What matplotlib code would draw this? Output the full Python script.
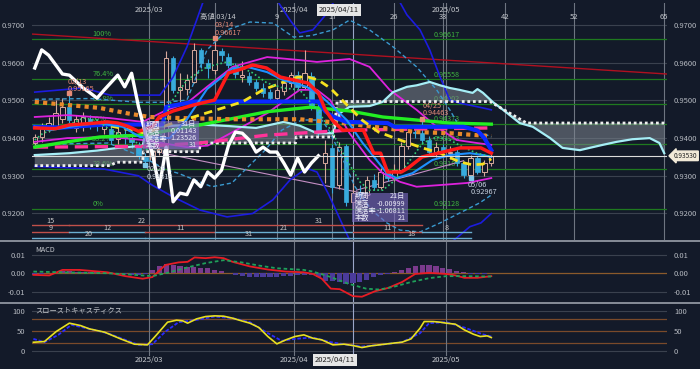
import numpy as np
import matplotlib.pyplot as plt
import matplotlib.transforms as mtransforms
from matplotlib.lines import Line2D
from matplotlib.patches import Rectangle

plt.rcParams['font.family'] = ['Noto Sans CJK JP', 'DejaVu Sans']

BG = '#131a29'
UP_C = '#d6a89c'
DN_C = '#38aadc'

# daily candles, bar 0 = early Feb 2025 ... bar 66 = 2025/05/09
opens = [0.9386, 0.9404, 0.9430, 0.9432, 0.9450, 0.9483, 0.9426, 0.9440, 0.9450, 0.9438,
         0.9425, 0.9425, 0.9398, 0.9410, 0.9400, 0.9377, 0.9350, 0.9340, 0.9362, 0.9370,
         0.9612, 0.9528, 0.9530, 0.9550, 0.9634, 0.9598, 0.9580, 0.9630, 0.9615, 0.9592,
         0.9562, 0.9566, 0.9550, 0.9533, 0.9522, 0.9506, 0.9525, 0.9545, 0.9567, 0.9536,
         0.9565, 0.9483, 0.9335, 0.9375, 0.9275, 0.9380, 0.9231, 0.9254, 0.9250, 0.9289,
         0.9271, 0.9310, 0.9294, 0.9315, 0.9380, 0.9416, 0.9413, 0.9395, 0.9363, 0.9376,
         0.9360, 0.9363, 0.9334, 0.9302, 0.9347, 0.9310, 0.9334]
highs = [0.9410, 0.9440, 0.9455, 0.9501, 0.9506, 0.95165, 0.9460, 0.9470, 0.9462, 0.9450,
         0.9448, 0.9440, 0.9430, 0.9425, 0.9415, 0.9390, 0.9360, 0.9375, 0.9380, 0.9630,
         0.9618, 0.9572, 0.9570, 0.9651, 0.9640, 0.9610, 0.96617, 0.9640, 0.9625, 0.9600,
         0.9605, 0.9575, 0.9558, 0.9545, 0.9530, 0.9535, 0.9555, 0.9575, 0.9578, 0.9634,
         0.9575, 0.9490, 0.9395, 0.9385, 0.9390, 0.9385, 0.9290, 0.9275, 0.9300, 0.9305,
         0.9320, 0.9318, 0.9330, 0.9390, 0.9425, 0.9430, 0.94463, 0.9405, 0.9390, 0.9385,
         0.9378, 0.9370, 0.9340, 0.9355, 0.9352, 0.9342, 0.9365]
lows = [0.9375, 0.9390, 0.9415, 0.9425, 0.9440, 0.9440, 0.9415, 0.9420, 0.9425, 0.9420,
        0.9410, 0.9385, 0.9385, 0.9385, 0.9375, 0.9345, 0.93319, 0.9335, 0.9355, 0.9365,
        0.9520, 0.9490, 0.9515, 0.9545, 0.9585, 0.9560, 0.9570, 0.9605, 0.9585, 0.9560,
        0.9550, 0.9540, 0.9525, 0.9510, 0.9498, 0.9495, 0.9515, 0.9535, 0.9530, 0.9530,
        0.9475, 0.9405, 0.9280, 0.9255, 0.9265, 0.9220, 0.92128, 0.9235, 0.9240, 0.9262,
        0.9265, 0.9285, 0.9285, 0.9310, 0.9370, 0.9400, 0.9385, 0.9355, 0.9350, 0.9350,
        0.9345, 0.9325, 0.9295, 0.92967, 0.9305, 0.9300, 0.9325]
closes = [0.9404, 0.9430, 0.9440, 0.9466, 0.9483, 0.9448, 0.9452, 0.9455, 0.9440, 0.9432,
          0.9438, 0.9395, 0.9415, 0.9400, 0.9390, 0.9353, 0.9338, 0.9365, 0.9370, 0.9612,
          0.9528, 0.9536, 0.9554, 0.9634, 0.9598, 0.9586, 0.9634, 0.9620, 0.9595, 0.9570,
          0.9567, 0.9550, 0.9533, 0.9520, 0.9506, 0.9527, 0.9547, 0.9567, 0.9536, 0.9572,
          0.9483, 0.9413, 0.9360, 0.9270, 0.9376, 0.9231, 0.9254, 0.9250, 0.9289, 0.9271,
          0.9310, 0.9294, 0.9315, 0.9380, 0.9416, 0.9413, 0.9395, 0.9363, 0.9376, 0.9363,
          0.9363, 0.9334, 0.9302, 0.9347, 0.9310, 0.9334, 0.9353]

# indicator lines, read as (bar, price) points
tenkan_x = [0, 3, 5, 7.5, 10.5, 12, 13.5, 15, 17, 18, 20, 23, 26, 28, 29.5, 31.5, 33.5, 35.5, 37.5, 39.5,
            41, 42, 43, 44.5, 47.5, 49, 50, 51, 53, 54, 56, 59, 61.5, 64.5, 66]
tenkan_y = [0.9427, 0.9425, 0.9435, 0.9438, 0.9443, 0.9440, 0.9431, 0.9418, 0.9430, 0.9456,
            0.9472, 0.9488, 0.9501, 0.9573, 0.9581, 0.9594, 0.9586, 0.9562, 0.9554, 0.9546,
            0.9520, 0.9475, 0.9448, 0.9421, 0.9421, 0.9360, 0.9360, 0.9310, 0.9310, 0.9321,
            0.9350, 0.9363, 0.9374, 0.9374, 0.9360]
kijun_x = [0, 4, 10, 18.5, 19, 22, 23, 41, 42, 43, 45, 51, 52, 62, 64, 65, 66]
kijun_y = [0.9430, 0.9428, 0.9436, 0.9436, 0.9483, 0.9493, 0.9497, 0.9497, 0.9471, 0.9458,
           0.9443, 0.9440, 0.9430, 0.9430, 0.9420, 0.9400, 0.9368]
span_a_x = [0, 5, 9, 12, 15.6, 16.2, 24, 28, 32, 36, 38.3, 40.8, 43.1, 44.1, 45.5, 48.4, 50.3, 51.8,
            53.8, 55.2, 57.1, 58.6, 60, 61.4, 63.3, 64, 64.8, 66.2, 67.7, 70.1, 72, 74.5, 76.3,
            78.8, 80.2, 82.1, 84.1, 86.4, 88.9, 90.3, 91]
span_a_y = [0.9355, 0.9360, 0.9367, 0.9374, 0.9380, 0.9430, 0.9436, 0.9432, 0.9427, 0.9443,
            0.9433, 0.9413, 0.9413, 0.9466, 0.9483, 0.9485, 0.9496, 0.9522, 0.9536, 0.9540,
            0.9549, 0.9540, 0.9533, 0.9528, 0.9520, 0.9530, 0.9520, 0.9496, 0.9475, 0.9440,
            0.9430, 0.9400, 0.9374, 0.9368, 0.9374, 0.9382, 0.9390, 0.9397, 0.9400, 0.9387, 0.9360]
span_b_x = [0, 10.9, 11.8, 15.6, 15.7, 23.8, 23.9, 37.7, 37.8, 43.2, 43.7, 65.8, 71.1, 91]
span_b_y = [0.9327, 0.9327, 0.9336, 0.9336, 0.9364, 0.9364, 0.9387, 0.9387, 0.9403, 0.9403,
            0.9497, 0.9497, 0.9440, 0.9440]
yellow_x = [11, 16, 20, 22.4, 26.3, 30, 33, 36, 38, 39.5, 41, 42.7, 43.4, 45.4, 47.3, 49.7,
            52.8, 55.7, 58.6, 61.4, 63.3, 64.8, 66]
yellow_y = [0.9432, 0.9413, 0.9440, 0.9453, 0.9475, 0.9496, 0.9528, 0.9549, 0.9562, 0.9562,
            0.9554, 0.9533, 0.9520, 0.9483, 0.9448, 0.9416, 0.9395, 0.9376, 0.9360, 0.9337,
            0.9329, 0.9331, 0.9345]
orange_x = [0, 4.7, 9.4, 13.3, 16.6, 21.4, 28.6, 38.3, 45.5, 50.3, 55.2, 60, 66]
orange_y = [0.9496, 0.9488, 0.9480, 0.9466, 0.9456, 0.9453, 0.9450, 0.9450, 0.9438, 0.9427,
            0.9416, 0.9413, 0.9405]
green_x = [0, 4.7, 9.4, 15.6, 23.9, 33.6, 39.8, 45.5, 50.3, 55.2, 60, 66]
green_y = [0.9376, 0.9390, 0.9403, 0.9408, 0.9435, 0.9470, 0.9482, 0.9472, 0.9456, 0.9448,
           0.9440, 0.9437]
pink_x = [0, 15.6, 23.9, 33.6, 40.8, 45.5, 55, 66]
pink_y = [0.9376, 0.9378, 0.9387, 0.9408, 0.9416, 0.9421, 0.9424, 0.9427]
mag_up_x = [0, 4.7, 10.9, 15.6, 19.1, 22, 24.9, 28.6, 33.6, 38.3, 40.8, 45.5, 48.4, 51.3, 55.2,
            58.1, 61, 63.9, 66]
mag_up_y = [0.9456, 0.9461, 0.9453, 0.9443, 0.9475, 0.9493, 0.9536, 0.9589, 0.9615, 0.9607,
            0.9602, 0.9610, 0.9589, 0.9528, 0.9475, 0.9430, 0.9395, 0.9387, 0.9382]
mag_lo_x = [0, 4.7, 10.9, 15.6, 22, 25, 29, 33.6, 38.3, 40.8, 42.7, 45.5, 48.4, 50.3, 52.8,
            55.2, 59, 62.5, 66]
mag_lo_y = [0.9390, 0.9400, 0.9403, 0.9395, 0.9376, 0.9380, 0.9420, 0.9466, 0.9528, 0.9528,
            0.9501, 0.9413, 0.9342, 0.9307, 0.9284, 0.9271, 0.9276, 0.9281, 0.9294]
dodger_x = [0, 2.2, 5.1, 9, 12.7, 15.2, 19.5, 22, 24.9, 28.6, 30.7, 33.6, 35.9, 39.3, 41.2, 43.1,
            45.1, 47.4, 49.4, 50.9, 52.3, 54.6, 57.5, 60, 62.9, 64.8, 66]
dodger_y = [0.9430, 0.9421, 0.9430, 0.9440, 0.9430, 0.9403, 0.9400, 0.9450, 0.9530, 0.9585,
            0.9589, 0.9575, 0.9554, 0.9536, 0.9514, 0.9483, 0.9448, 0.9387, 0.9342, 0.9307,
            0.9294, 0.9307, 0.9342, 0.9355, 0.9360, 0.9355, 0.9350]
gdot_x = [0, 1.2, 5.5, 7, 9, 10.9, 13.3, 14.8, 16.2, 18.1, 19.5, 22, 24.9, 27.8, 29.7, 31.5, 33.6,
          35.9, 38.3, 40.8, 43.1, 44.1, 45.1, 47, 48.4, 50.3, 51.8, 53.2, 54.6, 56.1, 58.1, 60,
          61.9, 63.9, 66]
gdot_y = [0.9395, 0.9413, 0.9440, 0.9453, 0.9448, 0.9421, 0.9403, 0.9387, 0.9370, 0.9400,
          0.9490, 0.9554, 0.9589, 0.9602, 0.9589, 0.9573, 0.9546, 0.9533, 0.9528, 0.9475,
          0.9413, 0.9376, 0.9342, 0.9284, 0.9262, 0.9262, 0.9284, 0.9315, 0.9350, 0.9387,
          0.9403, 0.9395, 0.9376, 0.9360, 0.9350]
bb2_up_x = [0, 8, 15, 19, 22, 24.9, 27.8, 31.1, 34.5, 37.4, 40, 43.1, 45.5, 48.4, 51.8, 55.2,
            58.1, 60, 61.4, 64.8, 66]
bb2_up_y = [0.9503, 0.9505, 0.9495, 0.9495, 0.9501, 0.9634, 0.9687, 0.9708, 0.9705, 0.9668,
            0.9672, 0.9687, 0.9713, 0.9687, 0.9642, 0.9589, 0.9528, 0.9475, 0.9430, 0.9413, 0.9403]
bb2_lo_x = [0, 5, 10.6, 15.6, 19.1, 20.7, 25.6, 28.5, 30.8, 33.3, 35.7, 38.6, 41.5, 42.5, 44.4,
            46.3, 48.7, 50.9, 52.8, 55.7, 58.6, 61.4, 64.3, 66]
bb2_lo_y = [0.9380, 0.9385, 0.9387, 0.9350, 0.9315, 0.9307, 0.9271, 0.9281, 0.9323, 0.9368,
            0.9421, 0.9448, 0.9448, 0.9421, 0.9350, 0.9271, 0.9209, 0.9175, 0.9156, 0.9151,
            0.9175, 0.9201, 0.9228, 0.9249]
bb3_up_x = [0, 7, 10.9, 18.1, 20, 22, 23.4, 24.5, 30, 35, 36.9, 38.3, 40.2, 42.2, 43.5, 48, 52.5,
            53.8, 55.7, 57.1, 58.6, 60, 61.4, 64.8, 66]
bb3_up_y = [0.9522, 0.9533, 0.9514, 0.9514, 0.9562, 0.9642, 0.9713, 0.9770, 0.9830, 0.9766,
            0.9713, 0.9679, 0.9687, 0.9730, 0.9770, 0.9830, 0.9770, 0.9727, 0.9687, 0.9634,
            0.9562, 0.9501, 0.9493, 0.9480, 0.9475]
bb3_lo_x = [0, 10, 15, 17, 20, 23.9, 27.8, 31.5, 34.4, 36.9, 39.3, 40.8, 42.5, 45.5, 50, 56, 60,
            62.9, 64.5, 66]
bb3_lo_y = [0.9325, 0.9318, 0.9300, 0.9275, 0.9244, 0.9209, 0.9191, 0.9200, 0.9236, 0.9289,
            0.9320, 0.9310, 0.9250, 0.9130, 0.9050, 0.9050, 0.9120, 0.9165, 0.9175, 0.9200]
trend_x = [-0.4, 91.4]
trend_y = [0.9676, 0.9570]
lilac1_x = [18.5, 48.5]
lilac1_y = [0.9360, 0.9250]
lilac2_x = [46.5, 62]
lilac2_y = [0.9262, 0.9340]

fib_levels = [0.96617, 0.95558, 0.94902, 0.94373, 0.93843, 0.93187, 0.92128]
fib_pct = ['100%', '76.4%', '61.8%', '50%', '38.2%', '23.6%', '0%']

# count lines at the bottom: (start bar, end bar, label, colour)
count_rows = [
    [(-10, 5, '15', 'r'), (5, 26, '22', 'r'), (26, 56, '31', 'r')],
    [(-3, 5, '9', 'r'), (5, 16, '12', 'b'), (16, 26, '11', 'r'), (26, 46, '21', 'b'),
     (46, 56, '11', 'r'), (56, 63, '8', 'b')],
    [(-3, 16, '20', 'b'), (16, 46, '31', 'b'), (46, 63, '18', 'b')],
]

# MACD panel
macd_x = [-0.2, 2.1, 4.0, 6.5, 10.5, 13.1, 15.6, 17.0, 18.9, 20.8, 22.1, 23.1, 24.7, 26.0, 27.3,
          28.6, 31.1, 33.7, 36.3, 38.9, 40.2, 41.5, 42.8, 44.1, 46.0, 47.3, 49.2, 51.1, 53.1,
          55.0, 57.0, 59.5, 60.8, 62.1, 64.0, 66.0]
macd_y = [-0.0009, -0.0012, 0.0018, 0.0018, 0.0005, -0.0016, -0.0030, -0.0021, 0.0045, 0.0059,
          0.0062, 0.0086, 0.0082, 0.0087, 0.0082, 0.0062, 0.0037, 0.0020, 0.0009, 0.0005,
          -0.0004, -0.0030, -0.0084, -0.0087, -0.0125, -0.0128, -0.0098, -0.0080, -0.0048,
          -0.0004, 0.0002, -0.0004, -0.0012, -0.0025, -0.0025, -0.0016]
signal_x = [-0.2, 4.0, 10.5, 14.4, 17.0, 19.5, 22.1, 24.7, 27.3, 29.9, 32.5, 35.0, 38.9, 40.2,
            42.8, 45.3, 47.9, 49.8, 51.8, 54.4, 57.0, 59.5, 62.1, 66.0]
signal_y = [0.0009, 0.0005, 0.0, -0.0009, -0.0016, 0.0005, 0.0032, 0.0055, 0.0071, 0.0059,
            0.0041, 0.0027, 0.0018, 0.0009, -0.0021, -0.0057, -0.0084, -0.0089, -0.0075,
            -0.0048, -0.0027, -0.0016, -0.0016, -0.0018]
hist = [-0.0008, -0.0005, 0.0003, 0.0008, 0.0010, 0.0010, 0.0008, 0.0007, 0.0006, 0.0005,
        0.0003, 0.0000, -0.0003, -0.0006, -0.0008, -0.0010, -0.0006, 0.0015, 0.0040, 0.0048,
        0.0046, 0.0040, 0.0035, 0.0036, 0.0030, 0.0028, 0.0020, 0.0012, 0.0002, -0.0010,
        -0.0015, -0.0018, -0.0020, -0.0020, -0.0020, -0.0019, -0.0017, -0.0015, -0.0010, -0.0010,
        -0.0012, -0.0022, -0.0040, -0.0045, -0.0050, -0.0058, -0.0055, -0.0048, -0.0035, -0.0020,
        -0.0010, -0.0002, 0.0008, 0.0018, 0.0030, 0.0040, 0.0045, 0.0045, 0.0040, 0.0030,
        0.0022, 0.0012, 0.0005, -0.0002, -0.0004, -0.0003, 0.0000]

# slow stochastics
k_x = [-0.2, 1.4, 3.1, 5.0, 6.6, 7.9, 10.1, 12.4, 14.4, 16.3, 17.6, 19.2, 20.5, 21.4, 22.1, 23.4,
       24.7, 26.0, 27.3, 28.6, 29.9, 31.1, 32.4, 33.7, 35.0, 36.3, 37.6, 38.9, 40.2, 41.5, 43.1,
       44.7, 46.0, 47.3, 48.6, 49.8, 51.8, 53.1, 54.4, 55.7, 56.3, 57.6, 58.6, 59.5, 60.8, 62.1,
       63.4, 64.4, 65.4, 66.0]
k_y = [21.1, 22.9, 47.9, 68.8, 62.9, 54.6, 46.3, 29.6, 16.3, 14.6, 39.6, 71.3, 76.3, 74.6, 68.8,
       79.6, 85.4, 87.1, 86.3, 81.3, 74.6, 68.8, 57.9, 35.4, 17.1, 27.1, 35.4, 39.6, 31.3, 27.1,
       14.6, 16.3, 12.9, 7.9, 12.1, 14.6, 18.8, 21.3, 29.6, 56.3, 72.9, 72.9, 71.3, 68.8, 66.3,
       52.1, 41.3, 35.4, 37.1, 32.9]
d_x = [-0.2, 1.4, 3.4, 5.3, 7.9, 10.5, 13.1, 15.0, 17.0, 18.9, 20.8, 23.4, 26.0, 28.6, 31.1, 33.7,
       35.7, 37.6, 40.2, 42.8, 45.3, 47.3, 49.8, 53.1, 55.7, 57.0, 59.5, 62.1, 64.7, 66.0]
d_y = [29.6, 21.3, 39.6, 64.6, 54.6, 43.8, 27.1, 14.6, 16.3, 47.9, 71.3, 77.1, 85.4, 81.3, 71.3,
       43.8, 24.6, 29.6, 32.9, 21.3, 14.6, 10.4, 14.6, 21.3, 43.8, 68.8, 71.3, 57.9, 41.3, 35.4]

month_lines = [16.5, 37.5, 59.5]
month_labels = ['2025/03', '2025/04', '2025/05']
count_lines = [26, 35, 43, 52, 59, 68, 78, 91]
count_labels = ['', '9', '17', '26', '33', '42', '52', '65']
cursor_bar = 46
last_price = 0.93530

# ---------------------------------------------------------------------------
fig = plt.figure(figsize=(7.0, 3.69), dpi=100, facecolor=BG)
L, W = 32 / 700, 635 / 700
ax = fig.add_axes([L, 1 - 240 / 369, W, 237 / 369])
axm = fig.add_axes([L, 1 - 302 / 369, W, 60 / 369])
axs = fig.add_axes([L, 1 - 356 / 369, W, 52 / 369])
for a in (ax, axm, axs):
    a.set_facecolor(BG)
    for s in a.spines.values():
        s.set_visible(False)
    a.set_xlim(-0.4, 91.4)
    a.set_xticks([])
    a.tick_params(axis='y', left=False, right=False, labelleft=True, labelright=True,
                  labelsize=5.5, labelcolor='#b5b9c0', pad=1.5)

TXT = '#c4c7cc'
ax.set_ylim(0.91297, 0.97584)
ax.set_yticks([0.92, 0.93, 0.94, 0.95, 0.96, 0.97])
ax.set_yticklabels(['%.4f' % v for v in [0.92, 0.93, 0.94, 0.95, 0.96, 0.97]])
for v in [0.92, 0.93, 0.94, 0.95, 0.96, 0.97]:
    ax.axhline(v, color='#3a414e', lw=0.8, zorder=0.5)

for b in month_lines + count_lines:
    ax.axvline(b, color='#6e7581', lw=0.8, zorder=0.6)
ax.axvline(cursor_bar, color='#9aa6c8', lw=0.8, zorder=0.6)

tx = mtransforms.blended_transform_factory(ax.transData, ax.transAxes)
for b, t in zip(month_lines, month_labels):
    ax.text(b, 0.972, t, transform=tx, ha='center', va='center', fontsize=5.5, color=TXT)
for b, t in zip(count_lines, count_labels):
    ax.text(b, 0.940, t, transform=tx, ha='center', va='center', fontsize=5.5, color=TXT)
ax.text(44.0, 0.972, '2025/04/11', transform=tx, ha='center', va='center', fontsize=5.5,
        color='#202020', bbox=dict(boxstyle='square,pad=0.25', fc='#e6e6e6', ec='none'), zorder=9)

# fibonacci levels
for lv, pc in zip(fib_levels, fib_pct):
    ax.axhline(lv, color='#1f7a1f', lw=0.9, zorder=0.8)
    ax.text(8.3, lv + 0.0003, pc, fontsize=5.3, color='#3fb43f', va='bottom', zorder=1)
    ax.text(57.6, lv + 0.0002, '%.5f' % lv, fontsize=5.2, color='#3fb43f', va='bottom', zorder=1)

# cloud
ax.fill(np.r_[span_a_x, span_b_x[::-1]], np.r_[span_a_y, span_b_y[::-1]],
        color='#7d858f', alpha=0.55, lw=0, zorder=1.5)

ax.plot(trend_x, trend_y, color='#b01020', lw=1.0, zorder=1.6)
ax.plot(lilac1_x, lilac1_y, color='#c48ec4', lw=0.8, zorder=1.6)
ax.plot(lilac2_x, lilac2_y, color='#c48ec4', lw=0.8, zorder=1.6)

# candles
bars = np.arange(len(closes))
o, h, l, c = map(np.array, (opens, highs, lows, closes))
up = c >= o
ax.vlines(bars[up], l[up], h[up], color=UP_C, lw=0.8, zorder=2)
ax.vlines(bars[~up], l[~up], h[~up], color=DN_C, lw=0.8, zorder=2)
ax.bar(bars[up], np.maximum(c[up] - o[up], 0.00008), bottom=o[up], width=0.62,
       facecolor=BG, edgecolor=UP_C, lw=0.7, zorder=2.1)
ax.bar(bars[~up], o[~up] - c[~up], bottom=c[~up], width=0.62,
       color=DN_C, edgecolor=DN_C, lw=0.5, zorder=2.1)

# indicator lines
ax.plot(bb3_up_x, bb3_up_y, color='#1c1ce0', lw=1.2, zorder=3)
ax.plot(bb3_lo_x, bb3_lo_y, color='#1c1ce0', lw=1.2, zorder=3)
ax.plot(bb2_up_x, bb2_up_y, color='#3a9ad0', lw=1.0, ls=(0, (3, 2)), zorder=3)
ax.plot(bb2_lo_x, bb2_lo_y, color='#3a9ad0', lw=1.0, ls=(0, (3, 2)), zorder=3)
ax.plot(mag_up_x, mag_up_y, color='#dd22dd', lw=1.3, zorder=3)
ax.plot(mag_lo_x, mag_lo_y, color='#dd22dd', lw=1.3, zorder=3)
ax.plot(span_a_x, span_a_y, color='#a6eef6', lw=1.6, zorder=3.1)
ax.plot(span_b_x, span_b_y, color='#eeeeee', lw=2.0, ls=(0, (1, 1)), zorder=3.1)
ax.plot(pink_x, pink_y, color='#ff3399', lw=2.4, ls=(0, (4, 2)), zorder=3.2)
ax.plot(green_x, green_y, color='#22ee22', lw=2.4, zorder=3.2)
ax.plot(orange_x, orange_y, color='#e8882a', lw=3.0, ls=(0, (1, 1)), zorder=3.2)
ax.plot(kijun_x, kijun_y, color='#0a2aff', lw=3.0, zorder=3.3)
ax.plot(yellow_x, yellow_y, color='#f5e020', lw=2.0, ls=(0, (3, 2)), zorder=3.4)
ax.plot(dodger_x, dodger_y, color='#1e90ff', lw=1.5, zorder=3.4)
ax.plot(gdot_x, gdot_y, color='#33cc77', lw=1.2, ls=(0, (1, 1.5)), zorder=3.4)
ax.plot(tenkan_x, tenkan_y, color='#ff1a1a', lw=2.5, zorder=3.5)
ax.plot(range(len(closes) - 25), closes[25:], color='white', lw=2.4, zorder=4)

ax.axhline(last_price, color='#dcdcdc', lw=0.8, zorder=4.5)
ty = mtransforms.blended_transform_factory(ax.transAxes, ax.transData)
ax.text(1.011, last_price, '%.5f' % last_price, transform=ty, ha='left', va='center',
        fontsize=4.7, color='#222222', clip_on=False, zorder=10,
        bbox=dict(boxstyle='larrow,pad=0.12', fc='#f2ead8', ec='#f2ead8'))

# high / low annotations
SAL = '#e58a78'
LOWC = '#c8d2e0'
ax.text(23.9, 0.97212, '高値 03/14', fontsize=5.3, color=TXT, va='center', zorder=7)
ax.text(26.0, 0.9700, '03/14', fontsize=5.3, color=SAL, va='center', zorder=7)
ax.text(26.0, 0.96801, '0.96617', fontsize=5.3, color=SAL, va='center', zorder=7)
ax.plot(26, 0.9666, 's', ms=2.5, color=SAL, zorder=7)
ax.text(4.8, 0.95488, '02/13', fontsize=5.3, color=SAL, va='center', zorder=7)
ax.text(4.8, 0.95302, '0.95165', fontsize=5.3, color=SAL, va='center', zorder=7)
ax.plot(5, 0.9520, 's', ms=2.5, color=SAL, zorder=7)
ax.text(16.1, 0.93180, '02/28', fontsize=5.3, color=LOWC, va='center', zorder=7)
ax.text(16.1, 0.92968, '0.93319', fontsize=5.3, color=LOWC, va='center', zorder=7)
ax.plot(16, 0.9329, 's', ms=2.5, color='#7fc8e8', zorder=7)
ax.text(56.1, 0.94840, '04/25', fontsize=5.2, color=SAL, va='center', zorder=7)
ax.text(56.1, 0.94665, '0.94463', fontsize=5.2, color=SAL, va='center', zorder=7)
ax.plot(56, 0.9450, 's', ms=2.5, color=SAL, zorder=7)
ax.text(62.6, 0.92756, '05/06', fontsize=5.3, color=LOWC, va='center', zorder=7)
ax.text(63.0, 0.92570, '0.92967', fontsize=5.3, color=LOWC, va='center', zorder=7)
ax.plot(63, 0.9293, 's', ms=2.5, color='#7fc8e8', zorder=7)

# measurement boxes
def info_box(x0, x1, y0, y1, rows):
    ax.add_patch(Rectangle((x0, y0), x1 - x0, y1 - y0, fc='#7a68c0', ec='none',
                           alpha=0.62, zorder=6))
    step = (y1 - y0) / len(rows)
    for i, (k, v) in enumerate(rows):
        yy = y1 - step * (i + 0.5)
        ax.text(x0 + 0.4, yy, k, fontsize=5.2, color='#ececf8', va='center', zorder=6.5)
        ax.text(x1 - 0.3, yy, v, fontsize=5.2, color='#ececf8', va='center', ha='right',
                zorder=6.5)

info_box(15.6, 23.7, 0.93711, 0.94454,
         [('期間', '31日'), ('騰落', '0.01143'), ('騰落率', '1.23526'), ('本数', '31')])
info_box(45.8, 53.9, 0.91777, 0.92557,
         [('期間', '21日'), ('騰落', '-0.00999'), ('騰落率', '-1.06811'), ('本数', '21')])

# count rows
row_y = [0.91695, 0.91509, 0.91350]
seg_col = {'r': '#c0504a', 'b': '#6aaed0'}
for yy, segs in zip(row_y, count_rows):
    for s0, s1, lab, col in segs:
        ax.plot([s0, s1], [yy, yy], color=seg_col[col], lw=1.0, zorder=5)
        mid = (max(s0, -0.4) + s1) / 2
        ax.text(mid, yy + 0.0001, lab, fontsize=5.2, color='#c8c8c8', ha='center',
                va='bottom', zorder=5)

# separators
for yp in (241, 303):
    fig.add_artist(Line2D([0, 1], [1 - yp / 369] * 2, transform=fig.transFigure,
                          color='#9aa0aa', lw=1.2))

# MACD
axm.set_ylim(-0.01568, 0.0170)
axm.set_yticks([-0.01, 0.0, 0.01])
axm.set_yticklabels(['-0.01', '0.00', '0.01'])
axm.axhline(0.01, color='#3a414e', lw=0.8)
axm.axhline(-0.01, color='#3a414e', lw=0.8)
axm.axhline(0.0, color='#8b5a2b', lw=0.9, zorder=1)
for b in month_lines:
    axm.axvline(b, color='#6e7581', lw=0.8)
axm.axvline(cursor_bar, color='#9aa6c8', lw=0.8)
hv = np.array(hist)
axm.bar(np.arange(len(hv)), hv, width=0.75,
        color=np.where(hv >= 0, '#7a3a8c', '#4b3b9b'), zorder=2)
axm.plot(macd_x, macd_y, color='#e81c24', lw=1.3, zorder=3)
axm.plot(signal_x, signal_y, color='#1fa05a', lw=1.3, ls=(0, (2, 1.5)), zorder=3)
axm.text(0.005, 0.93, 'MACD', transform=axm.transAxes, fontsize=5.2, color=TXT, va='top')

# stochastics
axs.set_ylim(-13.25, 116.75)
axs.set_yticks([0, 50, 100])
axs.set_yticklabels(['0', '50', '100'])
for v in (0, 100):
    axs.axhline(v, color='#3a414e', lw=0.8)
for v in (20, 50, 80):
    axs.axhline(v, color='#7a4a2a', lw=0.9)
for b in month_lines:
    axs.axvline(b, color='#6e7581', lw=0.8)
axs.axvline(cursor_bar, color='#9aa6c8', lw=0.8)
axs.plot(d_x, d_y, color='#2a2aff', lw=1.3, ls=(0, (2, 1)), zorder=3)
axs.plot(k_x, k_y, color='#e8e020', lw=1.2, zorder=3)
axs.text(0.005, 0.95, 'スローストキャスティクス', transform=axs.transAxes, fontsize=5.2,
         color=TXT, va='top')

tb = mtransforms.blended_transform_factory(axs.transData, axs.transAxes)
for b, t in zip(month_lines, month_labels):
    axs.text(b, -0.08, t, transform=tb, ha='center', va='center', fontsize=5.5, color=TXT,
             clip_on=False)
axs.text(43.4, -0.08, '2025/04/11', transform=tb, ha='center', va='center', fontsize=5.5,
         color='#202020', clip_on=False,
         bbox=dict(boxstyle='square,pad=0.25', fc='#e6e6e6', ec='none'))

fig.savefig('out.png', dpi=100, facecolor=BG)
